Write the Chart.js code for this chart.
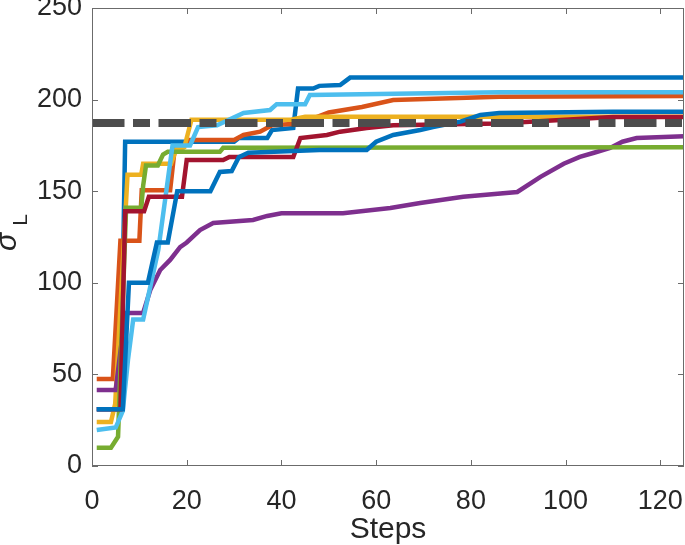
<!DOCTYPE html>
<html>
<head>
<meta charset="utf-8">
<script src="https://cdn.jsdelivr.net/npm/chart.js"></script>
<style>
  html, body { margin: 0; padding: 0; background: #fff; }
  #wrap { width: 685px; height: 545px; position: relative; }
</style>
</head>
<body>
<div id="wrap"><canvas id="myChart"></canvas></div>
<script>
// values (x = step, y = sigma_L)
const blueAX = [1, 6, 7, 30, 31, 37, 38, 42.5, 43.5, 46.7, 48, 52.4, 54.5, 125];
const blueAY = [31, 31, 177, 177, 179, 179, 183.4, 184.5, 206, 206, 207.5, 208, 212, 212];

const orangeX = [1, 4.4, 6, 10, 10.5, 16.5, 17.5, 19.3, 20.3, 30, 32, 35.5, 38, 44, 50, 57, 63.6, 86, 125];
const orangeY = [47.5, 47.5, 123, 123, 150.5, 150.5, 174, 174, 178, 178, 180.7, 182.5, 186, 187, 193, 196, 199.8, 201.6, 202];

const yellowX = [1, 4, 4.9, 7.5, 10.4, 10.8, 16.7, 17.8, 19.5, 21, 42, 45, 125];
const yellowY = [24, 24, 34, 159, 159, 165, 165, 173, 174, 189, 189, 190.7, 190.7];

const purpleX = [1, 5, 7, 8.2, 10.8, 12.3, 14.4, 16.5, 18.6, 20, 22.8, 25.6, 34, 37, 40, 53, 63, 69.3, 78.4, 89.8, 94.7, 99.6, 103, 106, 109.4, 112, 115, 120.7, 125];
const purpleY = [41.5, 41.5, 83.5, 83.5, 83.5, 96, 107, 112.5, 119.5, 122, 128.8, 132.6, 134.3, 136.5, 138, 138, 140.8, 143.6, 147, 149.6, 157.8, 165, 168.7, 171, 173.6, 177, 179, 179.6, 180];

const greenX = [1, 4, 5.5, 7.2, 10.4, 10.8, 11.4, 13.9, 15, 16, 27, 27.7, 125];
const greenY = [10, 10, 16, 141, 141, 153, 164, 164, 170, 171.5, 171.5, 173.7, 174];

const ltBlueX = [1, 5, 6.5, 7.6, 8.7, 10.8, 14, 16, 17, 20.7, 22.4, 26.4, 32, 37.6, 39, 45, 46, 86, 125];
const ltBlueY = [19.6, 21, 30, 58, 80, 80, 118, 156, 175, 175, 185, 186, 192.7, 194.3, 197.5, 197.5, 202.5, 204, 204];

const redX = [1, 6, 7, 11, 12, 19, 20, 27.7, 29, 42.5, 44, 49.6, 52.4, 58, 63.6, 86, 110, 125];
const redY = [31, 31, 139, 139, 147, 147, 167, 167, 168.7, 168.7, 179, 180.7, 182.5, 184.5, 186, 187, 190.5, 190.5];

const blueBX = [1, 6.5, 7.8, 11.8, 13.7, 16, 18, 25, 27, 29.5, 31, 33, 48, 58, 60, 63.6, 69.3, 72, 77.8, 82, 86, 110, 125];
const blueBY = [31, 31, 100, 100, 122, 122, 150, 150, 160.5, 161, 168.5, 171, 172.5, 172.5, 177, 180.7, 183.4, 185, 188, 191.6, 192.7, 193.4, 193.4];

const refX = [0, 125];
const refY = [187.2, 187.2];

const xTicks = [0, 20, 40, 60, 80, 100, 120];
const yTicks = [0, 50, 100, 150, 200, 250];

const FONT = '"Liberation Sans", Arial, Helvetica, sans-serif';
const TXT = '#262626';

function pts(xs, ys) {
  return xs.map((x, i) => ({ x: x, y: ys[i] }));
}

function series(label, xs, ys, color, order) {
  return {
    label: label,
    data: pts(xs, ys),
    borderColor: color,
    backgroundColor: color,
    borderWidth: 4.5,
    pointRadius: 0,
    tension: 0,
    order: order
  };
}

// box round the plot with inward ticks on all four sides
const boxPlugin = {
  id: 'box',
  afterDraw(chart) {
    const c = chart.ctx;
    const a = chart.chartArea;
    const sx = chart.scales.x, sy = chart.scales.y;
    c.save();
    c.strokeStyle = '#6b6b6b';
    c.lineWidth = 1;
    c.strokeRect(a.left + 0.5, a.top + 0.5, a.right - a.left - 1, a.bottom - a.top - 1);
    c.beginPath();
    xTicks.forEach(v => {
      const px = Math.round(sx.getPixelForValue(v)) + 0.5;
      c.moveTo(px, a.bottom); c.lineTo(px, a.bottom - 6);
      c.moveTo(px, a.top); c.lineTo(px, a.top + 6);
    });
    yTicks.forEach(v => {
      const py = Math.round(sy.getPixelForValue(v)) + 0.5;
      c.moveTo(a.left, py); c.lineTo(a.left + 6, py);
      c.moveTo(a.right, py); c.lineTo(a.right - 6, py);
    });
    c.stroke();

    // y axis title: sigma with subscript L
    c.translate(8, 242);
    c.rotate(-Math.PI / 2);
    c.fillStyle = TXT;
    c.textAlign = 'center';
    c.textBaseline = 'middle';
    c.font = 'italic 30px ' + FONT;
    c.fillText('σ', 0, 0);
    c.font = '21px ' + FONT;
    c.fillText('L', 22, 13);
    c.restore();
  }
};

const ctx = document.getElementById('myChart');

new Chart(ctx, {
  type: 'line',
  data: {
    datasets: [
      {
        label: 'reference',
        data: pts(refX, refY),
        borderColor: '#4d4d4d',
        borderWidth: 8,
        borderDash: [32.5, 8.5, 17, 8.5],
        borderCapStyle: 'butt',
        pointRadius: 0,
        order: 0
      },
      series('run 8', blueBX, blueBY, '#0072BD', 1),
      series('run 7', redX, redY, '#A2142F', 2),
      series('run 6', ltBlueX, ltBlueY, '#4DBEEE', 3),
      series('run 5', greenX, greenY, '#77AC30', 4),
      series('run 4', purpleX, purpleY, '#7E2F8E', 5),
      series('run 3', yellowX, yellowY, '#EDB120', 6),
      series('run 2', orangeX, orangeY, '#D95319', 7),
      series('run 1', blueAX, blueAY, '#0072BD', 8)
    ]
  },
  options: {
    responsive: true,
    maintainAspectRatio: false,
    animation: false,
    layout: { autoPadding: false, padding: { top: 8, right: 1, left: 0, bottom: 0 } },
    plugins: {
      legend: { display: false },
      tooltip: { enabled: false }
    },
    scales: {
      x: {
        type: 'linear',
        min: 0,
        max: 125,
        grid: { display: false, drawTicks: false },
        border: { display: false },
        ticks: {
          stepSize: 20,
          includeBounds: false,
          autoSkip: false,
          maxRotation: 0,
          padding: 19,
          color: TXT,
          font: { size: 27, family: FONT }
        },
        title: {
          display: true,
          text: 'Steps',
          color: TXT,
          font: { size: 30, family: FONT },
          padding: { top: 0, bottom: -3 }
        },
        afterFit(scale) {
          scale.height = 79;
          scale.paddingLeft = 0;
          scale.paddingRight = 0;
        }
      },
      y: {
        min: 0,
        max: 250,
        grid: { display: false, drawTicks: false },
        border: { display: false },
        ticks: {
          stepSize: 50,
          includeBounds: false,
          padding: 10,
          color: TXT,
          font: { size: 27, family: FONT }
        },
        afterFit(scale) {
          scale.width = 92;
          scale.paddingTop = 0;
          scale.paddingBottom = 0;
        }
      }
    }
  },
  plugins: [boxPlugin]
});
</script>
</body>
</html>
